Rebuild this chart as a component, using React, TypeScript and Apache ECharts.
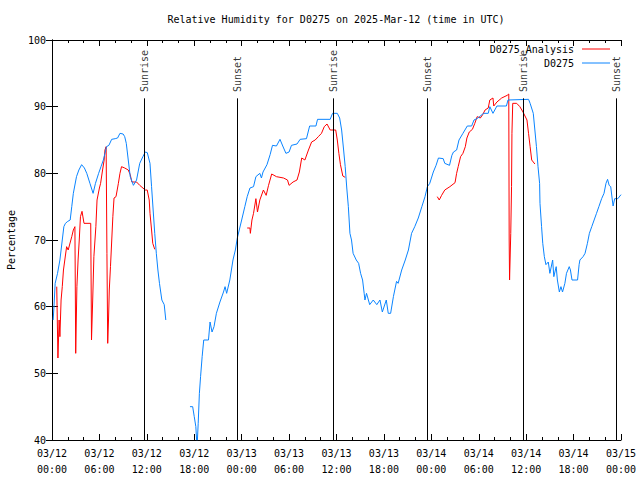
import { useEffect, useRef } from 'react';
import * as echarts from 'echarts';

const xTickLabels = [
  '03/12\n00:00', '03/12\n06:00', '03/12\n12:00', '03/12\n18:00',
  '03/13\n00:00', '03/13\n06:00', '03/13\n12:00', '03/13\n18:00',
  '03/14\n00:00', '03/14\n06:00', '03/14\n12:00', '03/14\n18:00',
  '03/15\n00:00',
];

// hours since 03/12 00:00 UTC, relative humidity (%)
const d0275: [number, number | null][] = [
  [0.15, 58], [0.25, 60], [0.4, 63.5], [0.7, 65], [1.0, 67], [1.3, 70], [1.5, 72], [1.7, 72.5],
  [2.0, 72.8], [2.3, 73], [2.5, 75], [2.7, 77], [3.1, 79.5], [3.4, 80.5], [3.75, 81.3], [4.1, 80.8],
  [4.4, 80], [4.8, 78.5], [5.2, 77], [5.5, 78.5], [5.9, 80], [6.2, 81], [6.5, 82], [6.7, 83],
  [6.9, 84], [7.2, 84.2], [7.55, 85.1], [8.0, 85.2], [8.3, 85.3], [8.6, 86], [9.0, 85.9], [9.2, 85.5],
  [9.4, 84.5], [9.65, 82], [9.9, 79.5], [10.3, 78.2], [10.7, 79], [11.1, 81.5], [11.5, 82.5], [11.8, 83.2],
  [12.06, 83.1], [12.4, 81.5], [12.6, 78], [12.8, 74.5], [13.0, 71], [13.2, 68], [13.4, 65.5], [13.6, 63.5],
  [13.9, 61], [14.2, 60.3], [14.4, 58],
  [15.9, null],
  [17.46, 45], [17.8, 45], [18.0, 43.5], [18.2, 42], [18.3, 40], [18.4, 40], [18.5, 42.5], [18.65, 47],
  [18.8, 49.5], [19.0, 52.5], [19.2, 55], [19.8, 55], [20.0, 57.7], [20.25, 56.2], [20.5, 57], [20.8, 59],
  [21.25, 60.7], [21.7, 62.2], [21.9, 63], [22.1, 62], [22.5, 64], [22.7, 65.5], [22.9, 67], [23.2, 68.5],
  [23.45, 70.3], [24.0, 73], [24.4, 75], [24.7, 76.5], [25.05, 77.8], [25.5, 78], [25.8, 79.5], [26.3, 80],
  [26.5, 79.3], [26.7, 80.2], [27.2, 81.3], [27.6, 82.8], [27.9, 84.2], [28.4, 84.1], [28.85, 85.1], [29.2, 84.1],
  [29.6, 83], [30.0, 83.2], [30.3, 84.2], [31.0, 84.4], [31.4, 85.1], [32.2, 85.2], [32.6, 87.1], [33.4, 87.1],
  [33.6, 88.1], [35.2, 88.1], [35.5, 89], [36.1, 89], [36.4, 88.3], [36.65, 86.5], [36.9, 83.5], [37.1, 81],
  [37.3, 77.8], [37.5, 75], [37.7, 71], [37.9, 70], [38.1, 68], [38.5, 67], [38.8, 66.5], [39.05, 65],
  [39.3, 64], [39.5, 62], [39.6, 61], [39.8, 62], [40.2, 60.3], [40.65, 61], [41.1, 60.3], [41.5, 61],
  [41.8, 59.2], [42.3, 61], [42.55, 59], [42.85, 59], [43.2, 61.5], [43.6, 63.8], [43.8, 63.5], [44.25, 65.5],
  [44.7, 67], [45.1, 68.5], [45.5, 71], [45.9, 72], [46.35, 73.3], [46.8, 75], [47.2, 76.5], [47.5, 78],
  [47.8, 78.5], [48.25, 80.2], [48.6, 81.2], [48.9, 82.3], [49.5, 82.2], [49.7, 81.5], [50.3, 81.2], [50.6, 82.7],
  [50.8, 83.2], [51.2, 83.5], [51.5, 85], [52.0, 86], [52.55, 87.1], [53.1, 87.1], [53.4, 88], [53.9, 88.3],
  [54.6, 89], [55.2, 89], [55.4, 90], [55.8, 89], [56.3, 90.1], [57.5, 90.1], [57.7, 91], [60.3, 91.1],
  [60.5, 90.5], [60.9, 89], [61.1, 86.5], [61.3, 84], [61.5, 81], [61.7, 78.5], [61.75, 75.5], [61.95, 72],
  [62.1, 69.5], [62.3, 67.5], [62.5, 66.3], [62.8, 66.7], [63.0, 65], [63.35, 67], [63.5, 64.5], [63.8, 66],
  [63.95, 64], [64.2, 62.2], [64.4, 63], [64.6, 62.2], [64.9, 63.5], [65.1, 65], [65.45, 66], [65.6, 65.5],
  [65.8, 64], [66.5, 64], [66.7, 66.3], [66.8, 67], [67.2, 67.5], [67.45, 68], [67.75, 69.5], [68.0, 71],
  [68.3, 72], [68.6, 73], [68.9, 74], [69.2, 75], [69.55, 76.2], [69.85, 77], [70.1, 78.5], [70.3, 79.1],
  [70.5, 78.2], [70.7, 78], [70.9, 76], [71.0, 75.1], [71.2, 76.2], [71.6, 76.2], [72.0, 76.8],
];

const d0275Analysis: [number, number | null][] = [
  [0.6, 63], [0.75, 52.3], [0.9, 58], [1.0, 55.5], [1.15, 61], [1.3, 63], [1.45, 65.5], [1.85, 69],
  [2.05, 68.5], [2.5, 70.5], [2.7, 71.5], [2.9, 72], [3.0, 53], [3.15, 63], [3.3, 67], [3.45, 70],
  [3.6, 73.5], [3.8, 74.3], [4.05, 72.5], [4.9, 72.5], [5.0, 55], [5.15, 61], [5.3, 67.5], [5.55, 72],
  [5.7, 76], [6.0, 77.8], [6.15, 78.5], [6.4, 80.5], [6.6, 82], [6.7, 83.5], [6.85, 84], [6.95, 68],
  [7.05, 54.5], [7.15, 58], [7.25, 62.5], [7.4, 66], [7.7, 73.5], [7.85, 76.3], [8.1, 76.5], [8.4, 78.5],
  [8.6, 80], [8.8, 81], [9.2, 80.8], [9.65, 80.5], [9.9, 79.8], [10.1, 78.7], [10.7, 78.7], [11.1, 78.2],
  [11.8, 77.5], [12.05, 77.5], [12.3, 76], [12.4, 74], [12.6, 71.5], [12.75, 69.5], [13.0, 68.6],
  [18.0, null],
  [24.7, 71.8], [25.05, 71.8], [25.1, 71], [25.3, 73], [25.5, 74], [25.8, 76.2], [26.0, 74.2], [26.3, 76],
  [26.75, 77.5], [27.1, 76.7], [27.4, 78.2], [27.8, 79.9], [28.4, 79.5], [29.3, 79.3], [29.8, 79], [30.0, 78.2],
  [30.5, 78.7], [31.0, 79], [31.3, 80.2], [31.6, 82.3], [32.0, 82], [32.45, 83.5], [32.85, 84.7], [33.3, 85],
  [33.7, 85.5], [34.1, 86], [34.45, 87], [34.8, 87.4], [35.2, 86.5], [35.9, 86.5], [36.1, 85], [36.3, 83],
  [36.5, 81.3], [36.8, 79.6], [37.1, 79.4],
  [42.0, null],
  [48.75, 76.5], [49.0, 76], [49.3, 76.7], [49.7, 77.5], [50.35, 78], [51.0, 78.6], [51.2, 80], [51.4, 81],
  [51.7, 82.5], [52.0, 83], [52.3, 84], [52.5, 85.3], [52.8, 86.2], [53.2, 86.6], [53.5, 87.5], [53.8, 88.5],
  [54.2, 88.3], [54.5, 88.8], [54.8, 89.5], [55.2, 89.8], [55.4, 91], [55.8, 91.3], [55.9, 90.1], [56.3, 90.7],
  [56.9, 91.3], [57.6, 91.7], [57.8, 91.9], [57.85, 70], [57.9, 64], [58.05, 71], [58.15, 78], [58.2, 86],
  [58.3, 90.5], [58.8, 90.5], [59.2, 90], [59.6, 89.2], [60.1, 88], [60.3, 86], [60.5, 84], [60.7, 82],
  [61.1, 81.4],
];

const eventHours = [11.68, 23.44, 35.6, 47.5, 59.6, 71.45];
const eventNames = ['Sunrise', 'Sunset', 'Sunrise', 'Sunset', 'Sunrise', 'Sunset'];

const titleText = 'Relative Humidity for D0275 on 2025-Mar-12 (time in UTC)';
const yAxisTitle = 'Percentage';
const seriesNames = ['D0275_Analysis', 'D0275'];
const seriesColors = ['#ff0000', '#0a84ff'];

export default function App() {
  const ref = useRef<HTMLDivElement>(null);
  useEffect(() => {
    const chart = echarts.init(ref.current!, null, { renderer: 'svg' });
    const font = 'DejaVu Sans Mono';
    const axisCommon = {
      type: 'value' as const,
      axisLine: { show: true, lineStyle: { color: '#000', width: 1 } },
      splitLine: { show: false },
    };
    const lineTop = 91.25;
    const labelBase = 92.2;
    chart.setOption({
      animation: false,
      backgroundColor: '#fff',
      grid: { left: 52, right: 19, top: 40, bottom: 40, containLabel: false, outerBoundsMode: 'none' },
      xAxis: [
        {
          ...axisCommon,
          position: 'bottom',
          min: 0, max: 72, interval: 6,
          axisTick: { show: true, inside: true, length: 6, lineStyle: { color: '#000' } },
          minorTick: { show: true, splitNumber: 3, length: 3, lineStyle: { color: '#000' } },
          axisLabel: {
            formatter: (v: number) => xTickLabels[Math.round(v / 6)] ?? '',
            fontFamily: font, fontSize: 10, color: '#000', lineHeight: 16, margin: 5,
            showMinLabel: true, showMaxLabel: true,
          },
        },
        {
          ...axisCommon,
          position: 'top',
          min: 0, max: 72, interval: 6,
          axisTick: { show: true, inside: true, length: 6, lineStyle: { color: '#000' } },
          minorTick: { show: true, splitNumber: 3, length: 3, lineStyle: { color: '#000' } },
          axisLabel: { show: false },
        },
      ],
      yAxis: [
        {
          ...axisCommon,
          position: 'left',
          min: 40, max: 100, interval: 10,
          axisTick: { show: true, inside: true, length: 6, lineStyle: { color: '#000' } },
          axisLabel: { fontFamily: font, fontSize: 10, color: '#000', margin: 6 },
          name: yAxisTitle,
          nameLocation: 'middle',
          nameRotate: 90,
          nameGap: 36,
          nameTextStyle: { fontFamily: font, fontSize: 10, color: '#000' },
        },
        {
          ...axisCommon,
          position: 'right',
          min: 40, max: 100, interval: 10,
          axisTick: { show: true, inside: true, length: 6, lineStyle: { color: '#000' } },
          axisLabel: { show: false },
        },
      ],
      series: [
        {
          name: seriesNames[0],
          type: 'line',
          data: d0275Analysis,
          symbol: 'none',
          connectNulls: false,
          lineStyle: { color: seriesColors[0], width: 1 },
          itemStyle: { color: seriesColors[0] },
          z: 3,
        },
        {
          name: seriesNames[1],
          type: 'line',
          data: d0275,
          symbol: 'none',
          connectNulls: false,
          lineStyle: { color: seriesColors[1], width: 1 },
          itemStyle: { color: seriesColors[1] },
          z: 4,
        },
        {
          name: 'events',
          type: 'scatter',
          data: eventHours.map((h) => [h, labelBase]),
          symbolSize: 0,
          silent: true,
          label: {
            show: true,
            position: 'inside',
            rotate: 90,
            align: 'left',
            verticalAlign: 'middle',
            fontFamily: font,
            fontSize: 10,
            color: '#000',
            formatter: (p: any) => eventNames[p.dataIndex],
          },
          markLine: {
            silent: true,
            symbol: ['none', 'none'],
            label: { show: false },
            lineStyle: { color: '#000', width: 1, type: 'solid' },
            data: eventHours.map((h) => [{ coord: [h, 40] }, { coord: [h, lineTop] }]),
          },
          z: 5,
        },
      ],
      graphic: [
        {
          type: 'text', x: 336, y: 19,
          style: { text: titleText, font: `10px "${font}"`, fill: '#000', textAlign: 'center', textVerticalAlign: 'middle' },
        },
        {
          type: 'text', x: 574, y: 49,
          style: { text: seriesNames[0], font: `10px "${font}"`, fill: '#000', textAlign: 'right', textVerticalAlign: 'middle' },
        },
        {
          type: 'line', shape: { x1: 582, y1: 49, x2: 610, y2: 49 },
          style: { stroke: seriesColors[0], lineWidth: 1 },
        },
        {
          type: 'text', x: 574, y: 63,
          style: { text: seriesNames[1], font: `10px "${font}"`, fill: '#000', textAlign: 'right', textVerticalAlign: 'middle' },
        },
        {
          type: 'line', shape: { x1: 582, y1: 63, x2: 610, y2: 63 },
          style: { stroke: seriesColors[1], lineWidth: 1 },
        },
      ],
    });
    return () => chart.dispose();
  }, []);
  return <div ref={ref} style={{ position: 'absolute', left: 0, top: 0, width: 640, height: 480 }} />;
}
